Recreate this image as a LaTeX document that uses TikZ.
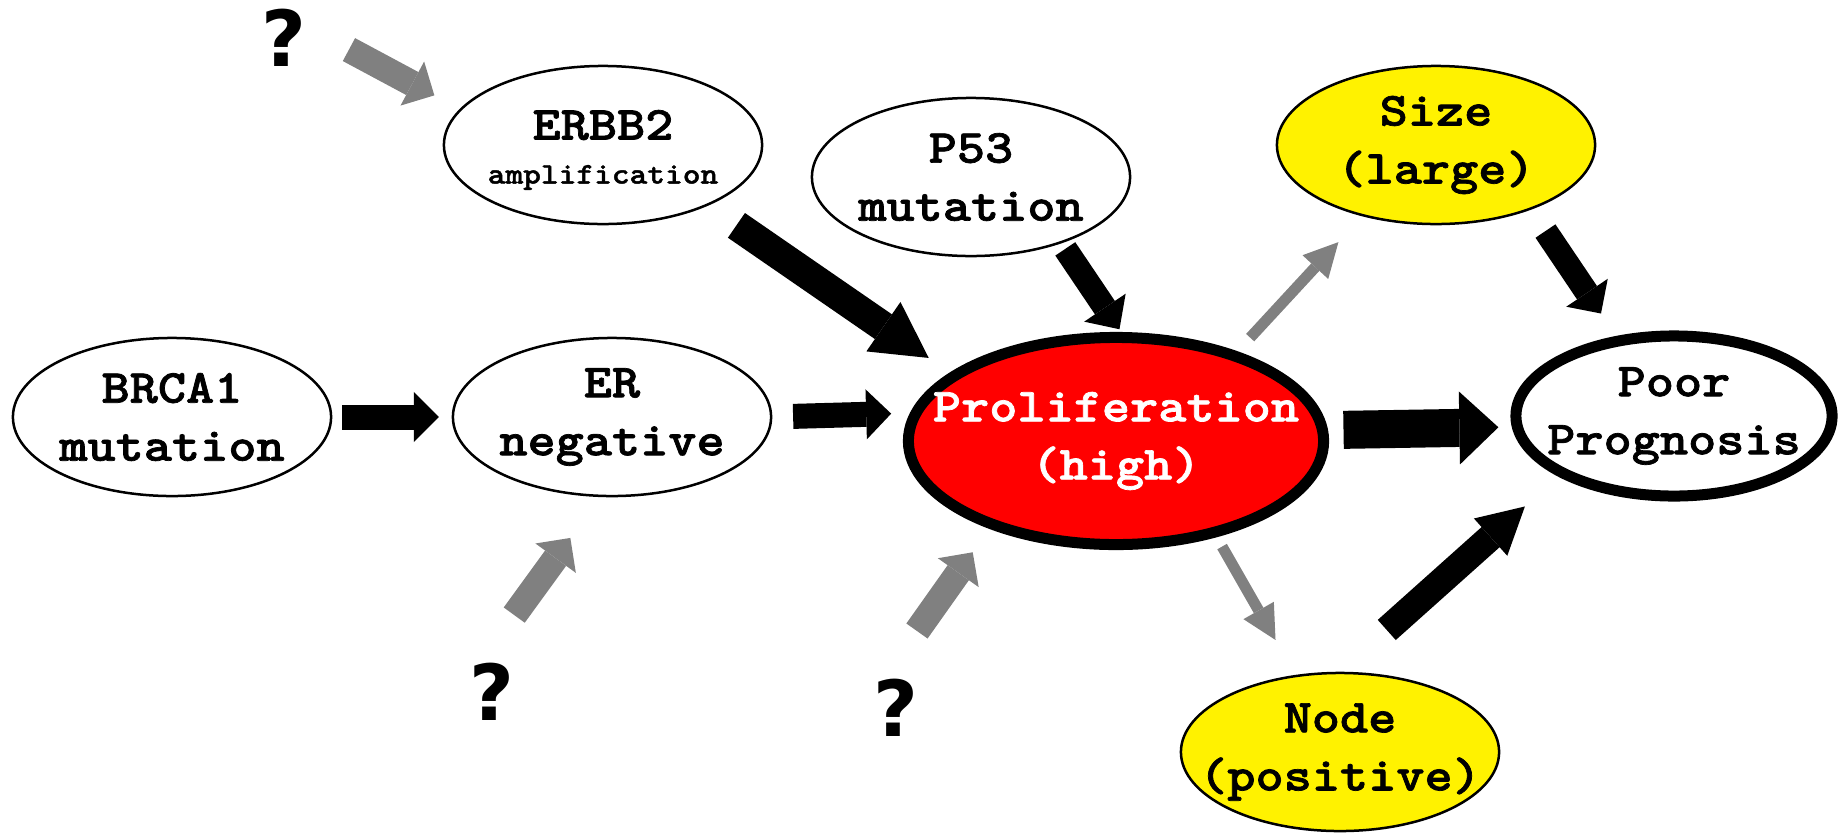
\documentclass[tikz,border=0pt]{standalone}
\usepackage{fontspec}
\newfontfamily\slabmono{lmmonolt10-bold.otf}[FakeStretch=1.13, FakeBold=1.5]
\newfontfamily\qfont{DejaVu Sans}
\usetikzlibrary{arrows.meta,shapes.geometric}

\tikzset{
  cell/.style={ellipse, draw, line width=0.025cm, outer sep=0pt,
    minimum width=3.18cm, minimum height=1.58cm},
  txt/.style={align=center, font=\fontsize{13.5}{16.5}\selectfont\slabmono},
  quest/.style={circle, minimum size=0.8cm, inner sep=0pt,
    font=\fontsize{22}{22}\selectfont\qfont\bfseries},
  % shaft width, head length, head width
  link/.style n args={3}{line width=#1,
    -{Triangle[length=#2, width=#3, line width=0pt]}},
  strong/.style={link={0.25cm}{0.25cm}{0.5cm}},
  unknown/.style={link={0.26cm}{0.25cm}{0.5cm}, gray},
  weak/.style={link={0.11cm}{0.34cm}{0.35cm}, gray},
}

\begin{document}
\begin{tikzpicture}[x=0.01cm, y=-0.01cm]
  \useasboundingbox (0,0) rectangle (1846,833);

  \node[cell, label={[txt]center:{BRCA1\\mutation}}] (brca1) at (172,417) {};
  \node[cell, label={[txt]center:{ER\\negative}}] (er) at (612,417) {};
  \node[cell, label={[txt, yshift=-0.05cm]center:{ERBB2\\[-4pt]{\fontsize{8.5}{10}\selectfont amplification}}}] (erbb2) at (603,145) {};
  \node[cell, label={[txt]center:{P53\\mutation}}] (p53) at (971,177) {};
  \node[cell, fill=yellow, label={[txt]center:{Size\\(large)}}] (tsize) at (1436,145) {};
  \node[cell, fill=yellow, label={[txt]center:{Node\\(positive)}}] (lymph) at (1340,752) {};
  \node[cell, fill=red, line width=0.11cm, minimum width=4.15cm, minimum height=2.07cm,
    label={[txt, white]center:{Proliferation\\(high)}}] (prolif) at (1116,441) {};
  \node[cell, line width=0.11cm, minimum width=3.16cm, minimum height=1.6cm,
    label={[txt]center:{Poor\\Prognosis}}] (poor) at (1674,416) {};

  \node[quest] (q1) at (284,38) {?};
  \node[quest] (q2) at (492,692) {?};
  \node[quest] (q3) at (896,708) {?};

  % black arrows
  \draw[strong, shorten <=0.11cm, shorten >=0.14cm] (brca1.east) -- (er.west);
  \draw[strong, shorten <=0.22cm, shorten >=0.25cm] (er.east) -- (prolif.172.6);
  \draw[link={0.30cm}{0.55cm}{0.6cm}, shorten <=0.36cm, shorten >=0.315cm] (erbb2.-30.5) -- (prolif.158.7);
  \draw[link={0.24cm}{0.26cm}{0.5cm}, shorten <=0.08cm, shorten >=0.10cm] (p53.-36.5) -- (prolif.85.3);
  \draw[link={0.38cm}{0.39cm}{0.73cm}, shorten <=0.21cm, shorten >=0.19cm] (prolif.3.3) -- (poor.184.7);
  \draw[link={0.24cm}{0.25cm}{0.5cm}, shorten <=0.27cm, shorten >=0.33cm] (tsize.-34.9) -- (poor.126.7);
  \draw[link={0.27cm}{0.46cm}{0.5cm}, shorten <=0.645cm, shorten >=0.505cm] (lymph.91.5) -- (poor.207.1);

  % grey arrows
  \draw[unknown, shorten <=0.275cm, shorten >=0.30cm] (q1.2) -- (erbb2.166.9);
  \draw[unknown, shorten <=0.45cm, shorten >=0.52cm] (q2.96.5) -- (er.262.6);
  \draw[unknown, shorten <=0.448cm, shorten >=0.343cm] (q3.97.5) -- (prolif.214.6);
  \draw[weak, shorten <=0.245cm, shorten >=0.365cm] (prolif.36.6) -- (tsize.224.4);
  \draw[weak, shorten <=0.164cm, shorten >=0.415cm] (prolif.-43.1) -- (lymph.120.4);
\end{tikzpicture}
\end{document}
